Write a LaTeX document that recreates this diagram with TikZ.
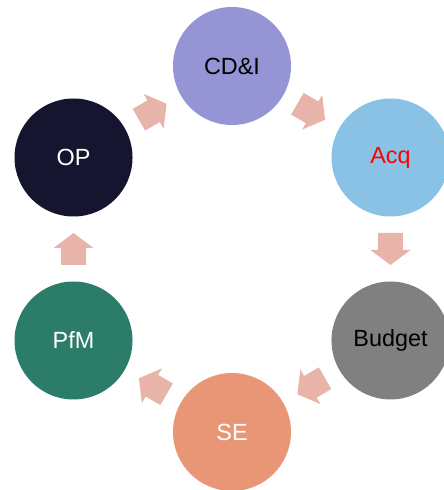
\documentclass[tikz,border=0pt]{standalone}
\usepackage{fontspec}
\setmainfont{Liberation Sans}
\usetikzlibrary{calc}
\definecolor{cdicol}{HTML}{9594D4}
\definecolor{acqcol}{HTML}{89C2E4}
\definecolor{budcol}{HTML}{808080}
\definecolor{secol}{HTML}{E99677}
\definecolor{pfmcol}{HTML}{2B7C69}
\definecolor{opcol}{HTML}{16152F}
\definecolor{arrcol}{HTML}{E8B3A9}
\definecolor{acqtext}{HTML}{FF0000}
\tikzset{
  stage/.style={circle, minimum size=118pt, inner sep=0pt, draw=none,
    font=\fontsize{23.4}{28}\selectfont},
  blockarrow/.pic={\fill[arrcol] (-16,-12.5) -- (1,-12.5) -- (1,-20) -- (16,0) -- (1,20) -- (1,12.5) -- (-16,12.5) -- cycle;}
}
\begin{document}
\begin{tikzpicture}[x=1pt,y=1pt]
\useasboundingbox (0,0) rectangle (444,490);
\clip (0,0) rectangle (444,490);
\coordinate (c) at (232,241);
\node[stage, fill=cdicol, text=black] (cdi) at ($(c)+(90:183)$) {CD\&I};
\node[stage, fill=acqcol, text=acqtext] (acq) at ($(c)+(30:183)$) {Acq};
\node[stage, fill=budcol, text=black] (bud) at ($(c)+(-30:183)$) {Budget};
\node[stage, fill=secol, text=white] (se) at ($(c)+(-90:183)$) {SE};
\node[stage, fill=pfmcol, text=white] (pfm) at ($(c)+(-150:183)$) {PfM};
\node[stage, fill=opcol, text=white] (op) at ($(c)+(150:183)$) {OP};
\pic[rotate=-30] at ($(cdi)!0.5!(acq)$) {blockarrow};
\pic[rotate=-90] at ($(acq)!0.5!(bud)$) {blockarrow};
\pic[rotate=-150] at ($(bud)!0.5!(se)$) {blockarrow};
\pic[rotate=150] at ($(se)!0.5!(pfm)$) {blockarrow};
\pic[rotate=90] at ($(pfm)!0.5!(op)$) {blockarrow};
\pic[rotate=30] at ($(op)!0.5!(cdi)$) {blockarrow};
\end{tikzpicture}
\end{document}
